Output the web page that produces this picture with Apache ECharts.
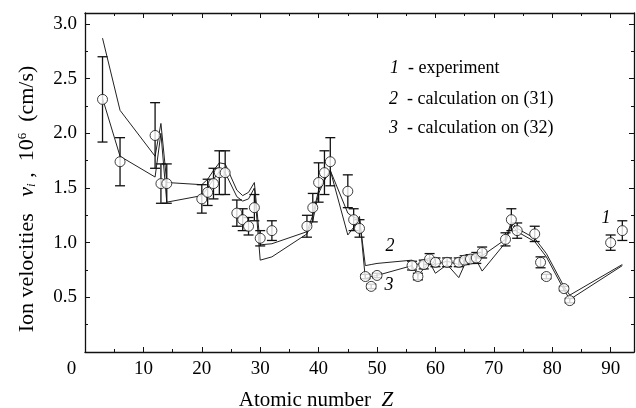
<!DOCTYPE html>
<html><head><meta charset="utf-8">
<script src="https://cdn.jsdelivr.net/npm/echarts@6/dist/echarts.min.js"></script>
<style>html,body{margin:0;padding:0;background:#fff}#c{width:636px;height:408px}</style>
</head><body><div id="c"></div>
<script>
// Experimental data (curve 1)
const zExp = [3,6,12,13,14,20,21,22,23,24,26,27,28,29,30,32,38,39,40,41,42,45,46,47,48,49,50,56,57,58,59,60,62,64,65,66,67,68,72,73,74,77,78,79,82,83,90,92];
const vExp = [2.31,1.74,1.98,1.54,1.54,1.40,1.46,1.54,1.64,1.64,1.27,1.21,1.15,1.32,1.04,1.11,1.15,1.32,1.55,1.64,1.74,1.47,1.21,1.13,0.69,0.60,0.70,0.79,0.69,0.80,0.85,0.82,0.82,0.82,0.84,0.85,0.86,0.91,1.03,1.21,1.11,1.08,0.82,0.69,0.58,0.47,1.00,1.11];
const errExp = [0.39,0.22,0.30,0.18,0.18,0.13,0.12,0.14,0.20,0.20,0.12,0.10,0.08,0.12,0.07,0.09,0.10,0.13,0.18,0.20,0.22,0.15,0.10,0.08,0.02,0.02,0.02,0.04,0.03,0.04,0.05,0.04,0.04,0.04,0.04,0.04,0.05,0.05,0.06,0.10,0.07,0.07,0.05,0.02,0.02,0.02,0.07,0.09];
// Calculated curves 2 (on (31)) and 3 (on (32))
const zCalc = [3,6,12,13,14,20,21,22,23,24,26,27,28,29,30,32,38,39,40,41,42,45,46,47,48,49,50,56,57,58,59,60,62,64,65,66,67,68,72,73,74,77,78,79,82,83,92];
const vCalc2 = [2.87,2.21,1.79,2.09,1.55,1.53,1.58,1.66,1.73,1.72,1.48,1.43,1.46,1.55,0.98,0.99,1.10,1.25,1.48,1.58,1.66,1.27,1.23,1.22,0.79,0.80,0.81,0.84,0.80,0.84,0.86,0.80,0.83,0.80,0.84,0.85,0.87,0.88,1.03,1.19,1.13,1.04,0.97,0.90,0.60,0.52,0.80];
const vCalc3 = [2.32,1.79,1.60,2.00,1.37,1.43,1.50,1.58,1.65,1.64,1.42,1.38,1.40,1.50,0.84,0.87,1.08,1.20,1.45,1.57,1.66,1.07,1.14,1.24,0.67,0.69,0.70,0.79,0.70,0.76,0.82,0.72,0.80,0.68,0.80,0.82,0.84,0.74,1.00,1.17,1.10,1.01,0.94,0.87,0.57,0.48,0.79];
// Axis ticks
const xTickStep = 10, yTickStep = 0.5;
const legendLabels = ['experiment', 'calculation on (31)', 'calculation on (32)'];

const FONT = '"Liberation Serif", "DejaVu Serif", serif';
const chart = echarts.init(document.getElementById('c'), null, {renderer: 'canvas'});

function axisCommon() {
  return {
    axisLine: {show: true, onZero: false, lineStyle: {color: '#111', width: 1.3}},
    axisTick: {show: true, inside: true, length: 5, lineStyle: {color: '#111', width: 1}},
    minorTick: {show: true, splitNumber: 2, length: 3, lineStyle: {color: '#111', width: 1}},
    splitLine: {show: false},
    minorSplitLine: {show: false}
  };
}

const option = {
  animation: false,
  backgroundColor: '#fff',
  grid: {left: 85, right: 2, top: 13, bottom: 56, containLabel: false},
  xAxis: [
    Object.assign({type: 'value', min: 0, max: 94, interval: xTickStep, position: 'bottom',
      axisLabel: {show: true, showMaxLabel: false, margin: 8, color: '#000', fontFamily: FONT, fontSize: 19,
        formatter: v => v === 0 ? '{z|0}' : String(v),
        rich: {z: {padding: [0, 27, 0, 0], fontFamily: FONT, fontSize: 19, color: '#000'}}}}, axisCommon()),
    Object.assign({type: 'value', min: 0, max: 94, interval: xTickStep, position: 'top', axisLabel: {show: false}}, axisCommon())
  ],
  yAxis: [
    Object.assign({type: 'value', min: 0, max: 3.1, interval: yTickStep, position: 'left',
      axisLabel: {show: true, showMaxLabel: false, margin: 8, color: '#000', fontFamily: FONT, fontSize: 19,
        formatter: v => v === 0 ? '' : v.toFixed(1)}}, axisCommon()),
    Object.assign({type: 'value', min: 0, max: 3.1, interval: yTickStep, position: 'right', axisLabel: {show: false}}, axisCommon())
  ],
  series: [
    {type: 'line', name: '2', data: zCalc.map((z, i) => [z, vCalc2[i]]), symbol: 'none',
      lineStyle: {color: '#222', width: 1}, z: 2},
    {type: 'line', name: '3', data: zCalc.map((z, i) => [z, vCalc3[i]]), symbol: 'none',
      lineStyle: {color: '#222', width: 1}, z: 2},
    {type: 'custom', name: 'err', z: 3,
      data: zExp.map((z, i) => [z, vExp[i] - errExp[i], vExp[i] + errExp[i]]),
      encode: {x: 0, y: [1, 2]},
      renderItem: function (params, api) {
        const lo = api.coord([api.value(0), api.value(1)]);
        const hi = api.coord([api.value(0), api.value(2)]);
        const w = 5;
        const st = {stroke: '#111', lineWidth: 1.3};
        return {type: 'group', children: [
          {type: 'line', shape: {x1: lo[0], y1: lo[1], x2: hi[0], y2: hi[1]}, style: st},
          {type: 'line', shape: {x1: lo[0] - w, y1: lo[1], x2: lo[0] + w, y2: lo[1]}, style: st},
          {type: 'line', shape: {x1: hi[0] - w, y1: hi[1], x2: hi[0] + w, y2: hi[1]}, style: st}
        ]};
      }},
    {type: 'scatter', name: '1', data: zExp.map((z, i) => [z, vExp[i]]), symbol: 'circle', symbolSize: 10,
      itemStyle: {color: '#fff', borderColor: '#111', borderWidth: 1}, z: 4}
  ],
  graphic: [
    {type: 'text', x: 27, y: 199, rotation: Math.PI / 2,
      style: {text: 'Ion velocities   {it|v}{sub|i} ,  10{sup|6}  (cm/s)', fill: '#000', font: '22px ' + FONT,
        align: 'center', verticalAlign: 'middle',
        rich: {it: {fontStyle: 'italic', fontFamily: FONT, fontSize: 22, fill: '#000'},
               sub: {fontStyle: 'italic', fontFamily: FONT, fontSize: 13, verticalAlign: 'bottom', fill: '#000'},
               sup: {fontFamily: FONT, fontSize: 13, verticalAlign: 'top', fill: '#000'}}}},
    {type: 'text', x: 316, y: 400,
      style: {text: 'Atomic number  {it|Z}', fill: '#000', font: '21px ' + FONT, align: 'center', verticalAlign: 'middle',
        rich: {it: {fontStyle: 'italic', fontFamily: FONT, fontSize: 21, fill: '#000'}}}},
    {type: 'text', x: 390, y: 68,
      style: {text: '{it|1}  - ' + legendLabels[0], fill: '#000', font: '18px ' + FONT, align: 'left', verticalAlign: 'middle',
        rich: {it: {fontStyle: 'italic', fontFamily: FONT, fontSize: 18, fill: '#000'}}}},
    {type: 'text', x: 389, y: 99,
      style: {text: '{it|2}  - ' + legendLabels[1], fill: '#000', font: '18px ' + FONT, align: 'left', verticalAlign: 'middle',
        rich: {it: {fontStyle: 'italic', fontFamily: FONT, fontSize: 18, fill: '#000'}}}},
    {type: 'text', x: 389, y: 128,
      style: {text: '{it|3}  - ' + legendLabels[2], fill: '#000', font: '18px ' + FONT, align: 'left', verticalAlign: 'middle',
        rich: {it: {fontStyle: 'italic', fontFamily: FONT, fontSize: 18, fill: '#000'}}}},
    {type: 'text', x: 390, y: 246, style: {text: '2', fill: '#000', font: 'italic 18px ' + FONT, align: 'center', verticalAlign: 'middle'}},
    {type: 'text', x: 389, y: 285, style: {text: '3', fill: '#000', font: 'italic 18px ' + FONT, align: 'center', verticalAlign: 'middle'}},
    {type: 'text', x: 606, y: 218, style: {text: '1', fill: '#000', font: 'italic 18px ' + FONT, align: 'center', verticalAlign: 'middle'}}
  ]
};
chart.setOption(option);
</script>
</body></html>
